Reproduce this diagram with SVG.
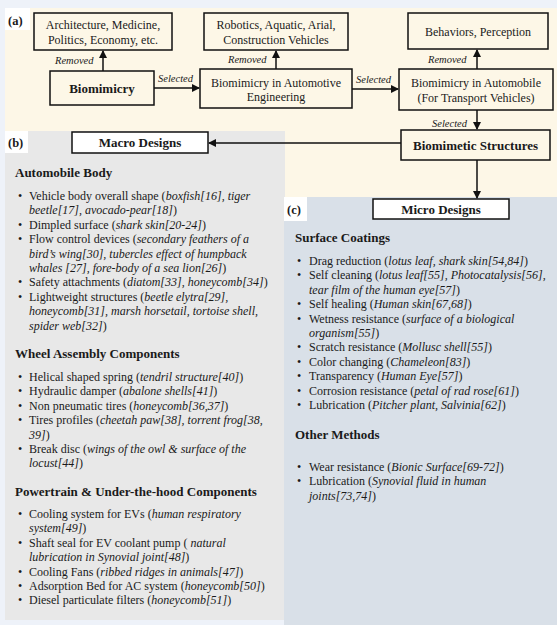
<svg xmlns="http://www.w3.org/2000/svg" width="557" height="625" viewBox="0 0 557 625" font-family="'Liberation Serif', 'Times New Roman', 'DejaVu Serif', serif">
<style>
  text { font-family: 'Liberation Serif', 'Times New Roman', Times, 'DejaVu Serif', serif; fill: #1a1a1a; }
  .box { fill: none; stroke: #111; stroke-width: 1.5; }
  .wbox { fill: #ffffff; stroke: #111; stroke-width: 1.5; }
  .bt { font-size: 12px; text-anchor: middle; }
  .bb { font-size: 13px; font-weight: bold; text-anchor: middle; }
  .lbl { font-size: 10.5px; font-style: italic; }
  .pl { font-size: 12.5px; font-weight: bold; }
  .h { font-size: 13px; font-weight: bold; }
  .t { font-size: 12px; }
  .i { font-style: italic; }
  .con { stroke: #111; stroke-width: 1.5; fill: none; marker-end: url(#ah); }
</style>
<defs>
  <marker id="ah" markerWidth="8" markerHeight="8" refX="7" refY="4" orient="auto" markerUnits="userSpaceOnUse">
    <path d="M0,0 L8,4 L0,8 Z" fill="#111"/>
  </marker>
</defs>
<!-- backgrounds -->
<rect x="0" y="0" width="557" height="625" fill="#eef2f9"/>
<rect x="5" y="8" width="552" height="189" fill="#fdf7e7"/>
<rect x="5" y="131" width="280" height="489" fill="#e8e8e8"/>
<rect x="284" y="197" width="273" height="428" fill="#d9e0e8"/>
<rect x="5" y="8" width="25" height="22" fill="#ffffff"/>
<rect x="5" y="131" width="23" height="22" fill="#ffffff"/>
<rect x="284" y="197" width="23" height="24" fill="#ffffff"/>
<text class="pl" x="8" y="25">(a)</text>
<text class="pl" x="8" y="147">(b)</text>
<text class="pl" x="287" y="214">(c)</text>

<!-- connectors -->
<g id="connectors">
  <line class="con" x1="103" y1="71" x2="103" y2="51"/>
  <line class="con" x1="154" y1="88" x2="199" y2="88"/>
  <line class="con" x1="276" y1="69" x2="276" y2="51"/>
  <line class="con" x1="352" y1="89" x2="398" y2="89"/>
  <line class="con" x1="477" y1="69" x2="477" y2="50"/>
  <line class="con" x1="477" y1="110" x2="477" y2="129"/>
  <line class="con" x1="401" y1="143" x2="209" y2="143"/>
  <line class="con" x1="477" y1="160" x2="477" y2="198"/>
  <text class="lbl" x="55" y="64">Removed</text>
  <text class="lbl" x="158" y="82">Selected</text>
  <text class="lbl" x="228" y="63">Removed</text>
  <text class="lbl" x="356" y="83">Selected</text>
  <text class="lbl" x="428" y="63">Removed</text>
  <text class="lbl" x="432" y="127">Selected</text>
</g>

<g id="n-arch">
  <rect class="box" x="34" y="13" width="138" height="37"/>
  <text class="bt" x="103" y="29">Architecture, Medicine,</text>
  <text class="bt" x="103" y="44">Politics, Economy, etc.</text>
</g>
<g id="n-biomimicry">
  <rect class="box" x="50" y="71" width="104" height="34"/>
  <text class="bb" x="102" y="93">Biomimicry</text>
</g>
<g id="n-robotics">
  <rect class="box" x="204" y="13" width="144" height="37"/>
  <text class="bt" x="276" y="29">Robotics, Aquatic, Arial,</text>
  <text class="bt" x="276" y="44">Construction Vehicles</text>
</g>
<g id="n-automotive">
  <rect class="box" x="200" y="69" width="152" height="39"/>
  <text class="bt" x="276" y="87">Biomimicry in Automotive</text>
  <text class="bt" x="276" y="101">Engineering</text>
</g>
<g id="n-behaviors">
  <rect class="box" x="408" y="13" width="140" height="36"/>
  <text class="bt" x="478" y="36">Behaviors, Perception</text>
</g>
<g id="n-automobile">
  <rect class="box" x="399" y="69" width="154" height="41"/>
  <text class="bt" x="476" y="87">Biomimicry in Automobile</text>
  <text class="bt" x="476" y="102">(For Transport Vehicles)</text>
</g>
<g id="n-structures">
  <rect class="box" x="401" y="130" width="149" height="30"/>
  <text class="bb" x="475.5" y="150">Biomimetic Structures</text>
</g>
<g id="n-macro">
  <rect class="wbox" x="72" y="132" width="136" height="21"/>
  <text class="bb" x="140" y="147">Macro Designs</text>
</g>
<g id="n-micro">
  <rect class="wbox" x="373" y="199" width="136" height="20"/>
  <text class="bb" x="441" y="214">Micro Designs</text>
</g>

<!-- (b) panel text -->
<g id="macro-list">
  <text class="h" x="15" y="177">Automobile Body</text>
  <text class="t" x="18" y="200">•</text>
  <text class="t" x="29" y="200">Vehicle body overall shape (<tspan class="i">boxfish[16], tiger</tspan></text>
  <text class="t" x="29" y="214.4"><tspan class="i">beetle[17], avocado-pear[18]</tspan>)</text>
  <text class="t" x="18" y="228.8">•</text>
  <text class="t" x="29" y="228.8">Dimpled surface (<tspan class="i">shark skin[20-24]</tspan>)</text>
  <text class="t" x="18" y="243.2">•</text>
  <text class="t" x="29" y="243.2">Flow control devices (<tspan class="i">secondary feathers of a</tspan></text>
  <text class="t" x="29" y="257.6"><tspan class="i">bird’s wing[30], tubercles effect of humpback</tspan></text>
  <text class="t" x="29" y="272"><tspan class="i">whales [27], fore-body of a sea lion[26]</tspan>)</text>
  <text class="t" x="18" y="286.4">•</text>
  <text class="t" x="29" y="286.4">Safety attachments (<tspan class="i">diatom[33], honeycomb[34]</tspan>)</text>
  <text class="t" x="18" y="300.8">•</text>
  <text class="t" x="29" y="300.8">Lightweight structures (<tspan class="i">beetle elytra[29],</tspan></text>
  <text class="t" x="29" y="315.2"><tspan class="i">honeycomb[31], marsh horsetail, tortoise shell,</tspan></text>
  <text class="t" x="29" y="329.6"><tspan class="i">spider web[32]</tspan>)</text>
  <text class="h" x="15" y="358">Wheel Assembly Components</text>
  <text class="t" x="18" y="381">•</text>
  <text class="t" x="29" y="381">Helical shaped spring (<tspan class="i">tendril structure[40]</tspan>)</text>
  <text class="t" x="18" y="395.4">•</text>
  <text class="t" x="29" y="395.4">Hydraulic damper (<tspan class="i">abalone shells[41]</tspan>)</text>
  <text class="t" x="18" y="409.8">•</text>
  <text class="t" x="29" y="409.8">Non pneumatic tires (<tspan class="i">honeycomb[36,37]</tspan>)</text>
  <text class="t" x="18" y="424.2">•</text>
  <text class="t" x="29" y="424.2">Tires profiles (<tspan class="i">cheetah paw[38], torrent frog[38,</tspan></text>
  <text class="t" x="29" y="438.6"><tspan class="i">39]</tspan>)</text>
  <text class="t" x="18" y="453">•</text>
  <text class="t" x="29" y="453">Break disc (<tspan class="i">wings of the owl &amp; surface of the</tspan></text>
  <text class="t" x="29" y="467.4"><tspan class="i">locust[44]</tspan>)</text>
  <text class="h" x="15" y="496">Powertrain &amp; Under-the-hood Components</text>
  <text class="t" x="18" y="518">•</text>
  <text class="t" x="29" y="518">Cooling system  for EVs (<tspan class="i">human respiratory</tspan></text>
  <text class="t" x="29" y="532.4"><tspan class="i">system[49]</tspan>)</text>
  <text class="t" x="18" y="546.8">•</text>
  <text class="t" x="29" y="546.8">Shaft seal for EV coolant pump ( <tspan class="i">natural</tspan></text>
  <text class="t" x="29" y="561.2"><tspan class="i">lubrication in Synovial joint[48]</tspan>)</text>
  <text class="t" x="18" y="575.6">•</text>
  <text class="t" x="29" y="575.6">Cooling Fans (<tspan class="i">ribbed ridges in animals[47]</tspan>)</text>
  <text class="t" x="18" y="590">•</text>
  <text class="t" x="29" y="590">Adsorption Bed for AC system (<tspan class="i">honeycomb[50]</tspan>)</text>
  <text class="t" x="18" y="604.4">•</text>
  <text class="t" x="29" y="604.4">Diesel particulate filters (<tspan class="i">honeycomb[51]</tspan>)</text>
</g>

<!-- (c) panel text -->
<g id="micro-list">
  <text class="h" x="295" y="242">Surface Coatings</text>
  <text class="t" x="297" y="265">•</text>
  <text class="t" x="309" y="265">Drag reduction (<tspan class="i">lotus leaf, shark skin[54,84]</tspan>)</text>
  <text class="t" x="297" y="279.4">•</text>
  <text class="t" x="309" y="279.4">Self cleaning (<tspan class="i">lotus leaf[55], Photocatalysis[56],</tspan></text>
  <text class="t" x="309" y="293.8"><tspan class="i">tear film of the human eye[57]</tspan>)</text>
  <text class="t" x="297" y="308.2">•</text>
  <text class="t" x="309" y="308.2">Self healing (<tspan class="i">Human skin[67,68]</tspan>)</text>
  <text class="t" x="297" y="322.6">•</text>
  <text class="t" x="309" y="322.6">Wetness resistance (<tspan class="i">surface of a biological</tspan></text>
  <text class="t" x="309" y="337"><tspan class="i">organism[55]</tspan>)</text>
  <text class="t" x="297" y="351.4">•</text>
  <text class="t" x="309" y="351.4">Scratch resistance (<tspan class="i">Mollusc shell[55]</tspan>)</text>
  <text class="t" x="297" y="365.8">•</text>
  <text class="t" x="309" y="365.8">Color changing (<tspan class="i">Chameleon[83]</tspan>)</text>
  <text class="t" x="297" y="380.2">•</text>
  <text class="t" x="309" y="380.2">Transparency (<tspan class="i">Human Eye[57]</tspan>)</text>
  <text class="t" x="297" y="394.6">•</text>
  <text class="t" x="309" y="394.6">Corrosion resistance (<tspan class="i">petal of rad rose[61]</tspan>)</text>
  <text class="t" x="297" y="409">•</text>
  <text class="t" x="309" y="409">Lubrication (<tspan class="i">Pitcher plant, Salvinia[62]</tspan>)</text>
  <text class="h" x="295" y="439">Other Methods</text>
  <text class="t" x="297" y="471">•</text>
  <text class="t" x="309" y="471">Wear resistance (<tspan class="i">Bionic Surface[69-72]</tspan>)</text>
  <text class="t" x="297" y="485.4">•</text>
  <text class="t" x="309" y="485.4">Lubrication (<tspan class="i">Synovial fluid in human</tspan></text>
  <text class="t" x="309" y="499.8"><tspan class="i">joints[73,74]</tspan>)</text>
</g>
</svg>
